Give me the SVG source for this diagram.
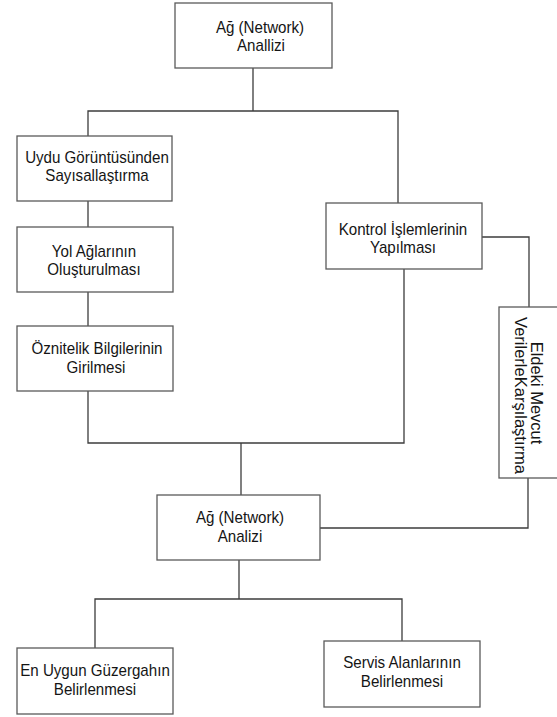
<svg xmlns="http://www.w3.org/2000/svg" width="557" height="717" viewBox="0 0 557 717">
<style>
.box{fill:#ffffff;stroke:#5a5a5a;stroke-width:1.3}
.ln{fill:none;stroke:#3c3c3c;stroke-width:1.3}
.t{font-family:"Liberation Sans",Arial,sans-serif;font-size:17px;fill:#151515;text-anchor:middle;transform-box:fill-box;transform-origin:center;transform:scaleX(0.89)}
.v{font-family:"Liberation Sans",Arial,sans-serif;font-size:16.5px;fill:#151515;text-anchor:middle}
</style>
<rect width="557" height="717" fill="#ffffff"/>
<g id="connectors">
<path class="ln" d="M253,68 V111 M88,136 V111 H398 V203"/>
<path class="ln" d="M88,201 V227"/>
<path class="ln" d="M88,292 V326"/>
<path class="ln" d="M88,391 V443 H404 V269"/>
<path class="ln" d="M241,443 V495"/>
<path class="ln" d="M482,237 H529 V307"/>
<path class="ln" d="M528,478 V528 H320"/>
<path class="ln" d="M239,560 V599 M95,648 V599 H402 V641"/>
</g>
<g id="n1">
<rect class="box" x="175" y="3" width="157" height="65"/>
<text class="t" x="260" y="33">Ağ (Network)</text>
<text class="t" x="261" y="51">Anallizi</text>
</g>
<g id="n2">
<rect class="box" x="17" y="136" width="155" height="65"/>
<text class="t" x="97" y="163">Uydu Görüntüsünden</text>
<text class="t" x="97" y="181">Sayısallaştırma</text>
</g>
<g id="n3">
<rect class="box" x="17" y="227" width="156" height="65"/>
<text class="t" x="94" y="257">Yol Ağlarının</text>
<text class="t" x="94" y="275">Oluşturulması</text>
</g>
<g id="n4">
<rect class="box" x="17" y="326" width="156" height="65"/>
<text class="t" x="97" y="354">Öznitelik Bilgilerinin</text>
<text class="t" x="96" y="373">Girilmesi</text>
</g>
<g id="n5">
<rect class="box" x="326" y="203" width="156" height="66"/>
<text class="t" x="403" y="235">Kontrol İşlemlerinin</text>
<text class="t" x="403" y="253">Yapılması</text>
</g>
<g id="n6">
<rect class="box" x="499" y="307" width="62" height="171"/>
<text class="v" transform="translate(531,393) rotate(90)">Eldeki Mevcut</text>
<text class="v" transform="translate(515,395.5) rotate(90)">VerilerleKarşılaştırma</text>
</g>
<g id="n7">
<rect class="box" x="157" y="495" width="163" height="65"/>
<text class="t" x="240" y="523">Ağ (Network)</text>
<text class="t" x="240" y="542">Analizi</text>
</g>
<g id="n8">
<rect class="box" x="17" y="648" width="156" height="66"/>
<text class="t" x="95" y="676">En Uygun Güzergahın</text>
<text class="t" x="95" y="695">Belirlenmesi</text>
</g>
<g id="n9">
<rect class="box" x="324" y="641" width="156" height="66"/>
<text class="t" x="402" y="668">Servis Alanlarının</text>
<text class="t" x="402" y="687">Belirlenmesi</text>
</g>
</svg>
